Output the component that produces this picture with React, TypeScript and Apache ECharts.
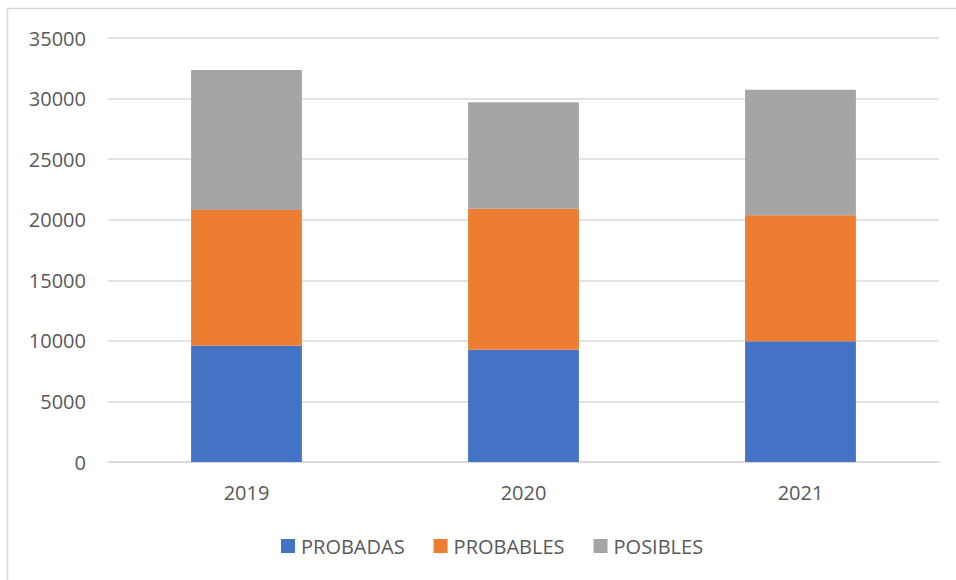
import React, { useEffect, useRef } from "react";
import * as echarts from "echarts";

const categories = ["2019", "2020", "2021"];
const probadas = [9600, 9270, 9960];
const probables = [11200, 11640, 10400];
const posibles = [11560, 8780, 10370];
const yTicks = { min: 0, max: 35000, interval: 5000 };

const FONT = "'Open Sans', 'Liberation Sans', sans-serif";

export default function App() {
  const ref = useRef<HTMLDivElement>(null);
  useEffect(() => {
    const chart = echarts.init(ref.current!, undefined, { renderer: "svg" });
    chart.setOption({
      animation: false,
      backgroundColor: "#ffffff",
      textStyle: { fontFamily: FONT },
      graphic: [
        {
          type: "rect",
          shape: { x: 7.5, y: 8.5, width: 1000, height: 1000 },
          style: { fill: "none", stroke: "#d9d9d9", lineWidth: 1.5 },
          silent: true,
          z: -1,
        },
      ],
      grid: { left: 108, right: 17, top: 38, bottom: 118, containLabel: false },
      xAxis: {
        type: "category",
        data: categories,
        axisLine: { lineStyle: { color: "#d9d9d9", width: 1.5 } },
        axisTick: { show: false },
        axisLabel: { color: "#595959", fontSize: 20, margin: 20, fontFamily: FONT },
      },
      yAxis: {
        type: "value",
        min: yTicks.min,
        max: yTicks.max,
        interval: yTicks.interval,
        axisLine: { show: false },
        axisTick: { show: false },
        axisLabel: {
          color: "#595959",
          fontSize: 20,
          margin: 22,
          fontFamily: FONT,
          formatter: (v: number) => String(v),
        },
        splitLine: { lineStyle: { color: "#d9d9d9", width: 1.5 } },
      },
      legend: {
        top: 531,
        left: 276,
        itemWidth: 14,
        itemHeight: 14,
        itemGap: 29,
        icon: "rect",
        textStyle: { color: "#595959", fontSize: 20, fontFamily: FONT, padding: [0, 0, 0, 1] },
        data: ["PROBADAS", "PROBABLES", "POSIBLES"],
      },
      series: [
        { name: "PROBADAS", type: "bar", stack: "t", data: probadas, barWidth: "40%", itemStyle: { color: "#4472c4" } },
        { name: "PROBABLES", type: "bar", stack: "t", data: probables, barWidth: "40%", itemStyle: { color: "#ed7d31" } },
        { name: "POSIBLES", type: "bar", stack: "t", data: posibles, barWidth: "40%", itemStyle: { color: "#a5a5a5" } },
      ],
    });
    return () => chart.dispose();
  }, []);
  return <div ref={ref} style={{ width: 956, height: 580, position: "absolute", left: 0, top: 0 }} />;
}
